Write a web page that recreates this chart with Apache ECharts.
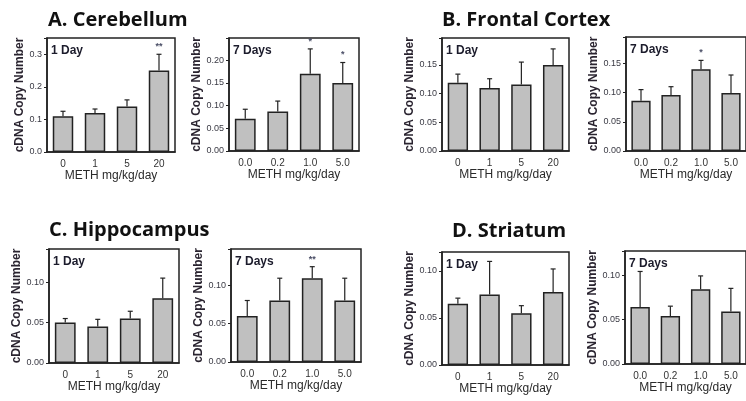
<!DOCTYPE html>
<html>
<head>
<meta charset="utf-8">
<style>html,body{margin:0;padding:0;background:#fff}#c{width:746px;height:401px}</style>
<script src="https://cdn.jsdelivr.net/npm/echarts@6/dist/echarts.min.js"></script>
</head>
<body>
<div id="c"></div>
<script>
// ---- data ----
var cats1Day = ['0', '1', '5', '20'];
var cats7Day = ['0.0', '0.2', '1.0', '5.0'];
var regionTitles = ['A. Cerebellum', 'B. Frontal Cortex', 'C. Hippocampus', 'D. Striatum'];
var panelLabels = ['1 Day', '7 Days', '1 Day', '7 Days', '1 Day', '7 Days', '1 Day', '7 Days'];

var cerebellum1Mean = [0.11, 0.12, 0.14, 0.25];
var cerebellum1Err  = [0.125, 0.132, 0.16, 0.30];
var cerebellum1Star = ['', '', '', '**'];
var cerebellum7Mean = [0.071, 0.087, 0.17, 0.15];
var cerebellum7Err  = [0.092, 0.11, 0.225, 0.195];
var cerebellum7Star = ['', '', '*', '*'];

var frontal1Mean = [0.119, 0.11, 0.116, 0.15];
var frontal1Err  = [0.134, 0.126, 0.155, 0.178];
var frontal1Star = ['', '', '', ''];
var frontal7Mean = [0.086, 0.096, 0.14, 0.099];
var frontal7Err  = [0.105, 0.11, 0.155, 0.13];
var frontal7Star = ['', '', '*', ''];

var hippo1Mean = [0.05, 0.045, 0.055, 0.08];
var hippo1Err  = [0.055, 0.054, 0.064, 0.105];
var hippo1Star = ['', '', '', ''];
var hippo7Mean = [0.06, 0.08, 0.109, 0.08];
var hippo7Err  = [0.08, 0.109, 0.124, 0.109];
var hippo7Star = ['', '', '**', ''];

var striatum1Mean = [0.065, 0.075, 0.055, 0.0775];
var striatum1Err  = [0.071, 0.11, 0.063, 0.102];
var striatum1Star = ['', '', '', ''];
var striatum7Mean = [0.064, 0.054, 0.084, 0.059];
var striatum7Err  = [0.104, 0.065, 0.099, 0.085];
var striatum7Star = ['', '', '', ''];

var yMax      = [0.35, 0.249, 0.197, 0.195, 0.141, 0.147, 0.12, 0.127];
var yInterval = [0.1, 0.05, 0.05, 0.05, 0.05, 0.05, 0.05, 0.05];
var yDecimals = [1, 2, 2, 2, 2, 2, 2, 2];

var means = [cerebellum1Mean, cerebellum7Mean, frontal1Mean, frontal7Mean, hippo1Mean, hippo7Mean, striatum1Mean, striatum7Mean];
var errs  = [cerebellum1Err, cerebellum7Err, frontal1Err, frontal7Err, hippo1Err, hippo7Err, striatum1Err, striatum7Err];
var stars = [cerebellum1Star, cerebellum7Star, frontal1Star, frontal7Star, hippo1Star, hippo7Star, striatum1Star, striatum7Star];

// ---- layout (pixels) ----
var boxes = [
  {left: 47, top: 38, width: 128, height: 114},
  {left: 229, top: 38, width: 130, height: 113},
  {left: 442, top: 38, width: 127, height: 113},
  {left: 626, top: 37, width: 130, height: 114},
  {left: 49, top: 249, width: 130, height: 114},
  {left: 231, top: 249, width: 130, height: 113},
  {left: 442, top: 252, width: 127, height: 113},
  {left: 625, top: 251, width: 130, height: 113}
];
var titlePos = [{left: 48, top: 10}, {left: 442, top: 10}, {left: 49, top: 220}, {left: 452, top: 221}];

var narrow = "'Liberation Sans Narrow', 'Arial Narrow', 'Liberation Sans', Arial, sans-serif";
var sans = "'Liberation Sans', Arial, sans-serif";

var titles = [], grids = [], xAxes = [], yAxes = [], series = [];
regionTitles.forEach(function (t, i) {
  titles.push({text: t, left: titlePos[i].left, top: titlePos[i].top, padding: 0,
    textStyle: {fontFamily: "'Open Sans', sans-serif", fontWeight: 'bold', fontSize: 20, color: '#111'}});
});

boxes.forEach(function (b, i) {
  var cats = (i % 2 === 0) ? cats1Day : cats7Day;
  grids.push({left: b.left, top: b.top, width: b.width, height: b.height, show: true,
    borderColor: '#222', borderWidth: 1.5, backgroundColor: 'transparent'});
  titles.push({text: panelLabels[i], left: b.left + 4, top: b.top + 7, padding: 0,
    textStyle: {fontFamily: narrow, fontWeight: 'bold', fontSize: 12, color: '#1c1c2c'}});
  xAxes.push({type: 'category', gridIndex: i, data: cats,
    name: 'METH mg/kg/day', nameLocation: 'middle', nameGap: 18,
    nameTextStyle: {fontFamily: narrow, fontSize: 12, color: '#2a2a2a'},
    axisLine: {show: true, lineStyle: {color: '#222', width: 1.5}},
    axisTick: {show: false},
    axisLabel: {margin: 7, fontFamily: narrow, fontSize: 10, color: '#333'}});
  var iv = yInterval[i], dec = yDecimals[i];
  yAxes.push({type: 'value', gridIndex: i, min: 0, max: yMax[i], interval: iv,
    name: 'cDNA Copy Number', nameLocation: 'middle', nameGap: 20,
    nameTextStyle: {fontFamily: sans, fontWeight: 'bold', fontSize: 12, color: '#2a2430'},
    splitLine: {show: false},
    axisLine: {show: true, lineStyle: {color: '#222', width: 1.5}},
    axisTick: {show: true, inside: false, length: 3, lineStyle: {color: '#222'}},
    axisLabel: {margin: 5, fontFamily: narrow, fontSize: 9, color: '#3a3a44',
      formatter: function (v) {
        var r = v / iv;
        if (Math.abs(r - Math.round(r)) > 1e-6) return '';
        return v.toFixed(dec);
      }}});
  series.push({type: 'bar', xAxisIndex: i, yAxisIndex: i, data: means[i], barWidth: '64%',
    itemStyle: {color: '#c0c0c0', borderColor: '#222', borderWidth: 1.5}, silent: true});
  var ed = means[i].map(function (m, k) { return [k, m, errs[i][k]]; });
  var st = stars[i];
  series.push({type: 'custom', xAxisIndex: i, yAxisIndex: i, data: ed, silent: true, z: 5,
    renderItem: function (params, api) {
      var lo = api.coord([api.value(0), api.value(1)]);
      var hi = api.coord([api.value(0), api.value(2)]);
      var children = [
        {type: 'line', shape: {x1: lo[0], y1: lo[1], x2: hi[0], y2: hi[1]}, style: {stroke: '#222', lineWidth: 1.2}},
        {type: 'line', shape: {x1: hi[0] - 2.5, y1: hi[1], x2: hi[0] + 2.5, y2: hi[1]}, style: {stroke: '#222', lineWidth: 1.2}}
      ];
      var s = st[params.dataIndex];
      if (s) {
        children.push({type: 'text', x: hi[0], y: hi[1] - 3,
          style: {text: s, fill: '#4a4e66', font: 'bold 9px ' + sans, align: 'center', verticalAlign: 'bottom'}});
      }
      return {type: 'group', children: children};
    }});
});

var chart = echarts.init(document.getElementById('c'), null, {renderer: 'canvas'});
chart.setOption({animation: false, backgroundColor: '#fff', title: titles, grid: grids,
  xAxis: xAxes, yAxis: yAxes, series: series});
</script>
</body>
</html>
